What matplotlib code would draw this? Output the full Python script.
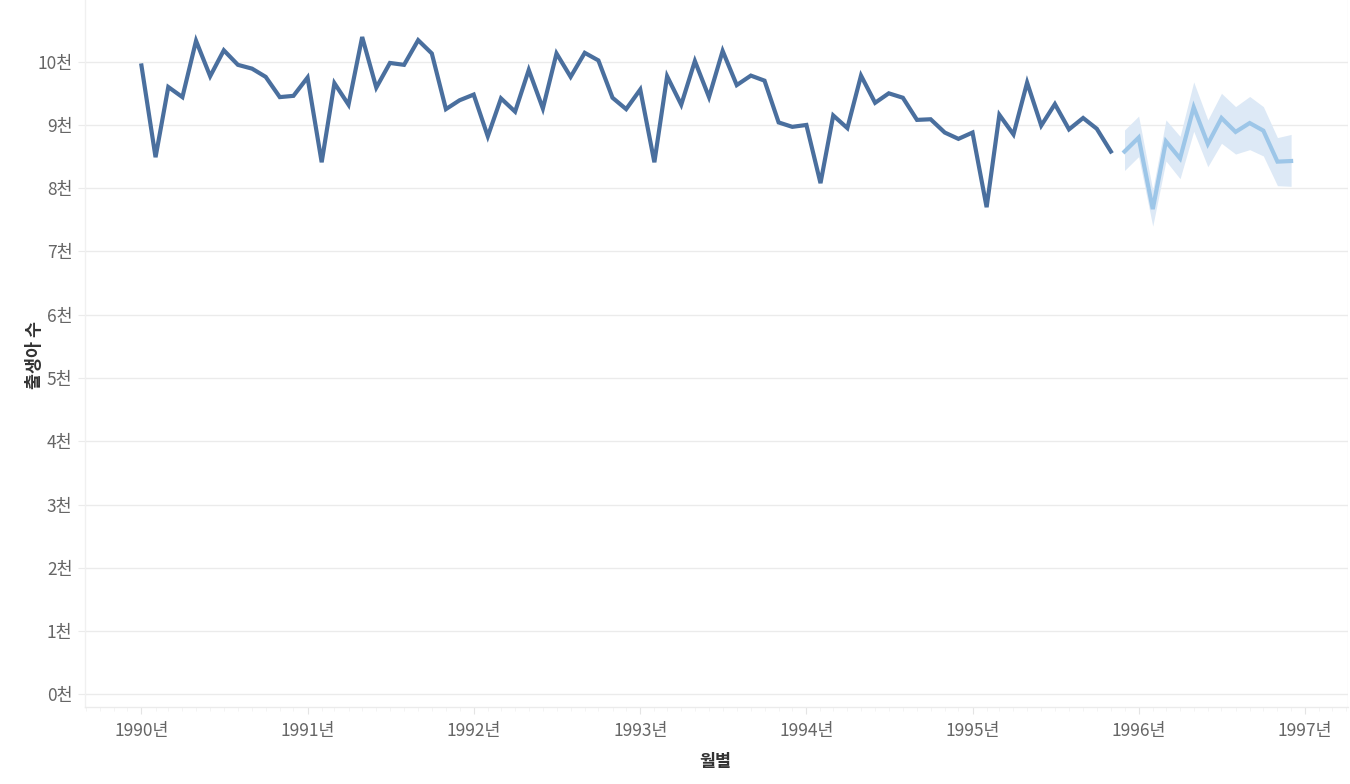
import numpy as np
import pandas as pd
import matplotlib
matplotlib.use("Agg")
import matplotlib.pyplot as plt
import matplotlib.dates as mdates
from matplotlib.ticker import FuncFormatter, MultipleLocator

plt.rcParams["font.family"] = ["Noto Sans CJK KR", "DejaVu Sans"]

# monthly births, Jan 1990 - Nov 1995 (thousands)
actual = [
    9.94, 8.49, 9.60, 9.44, 10.33, 9.77, 10.18, 9.95, 9.89, 9.76, 9.44, 9.46,
    9.75, 8.41, 9.66, 9.32, 10.39, 9.59, 9.98, 9.95, 10.34, 10.13, 9.25, 9.39,
    9.48, 8.82, 9.42, 9.21, 9.87, 9.26, 10.13, 9.76, 10.14, 10.02, 9.43, 9.25,
    9.56, 8.41, 9.77, 9.32, 10.01, 9.44, 10.17, 9.63, 9.78, 9.70, 9.04, 8.97,
    9.00, 8.08, 9.15, 8.95, 9.78, 9.35, 9.50, 9.43, 9.08, 9.09, 8.88, 8.78,
    8.88, 7.70, 9.16, 8.85, 9.67, 8.99, 9.33, 8.93, 9.11, 8.94, 8.58,
]
# forecast Dec 1995 - Dec 1996 (thousands)
forecast = [8.58, 8.80, 7.67, 8.74, 8.47, 9.28, 8.70, 9.11, 8.89, 9.03, 8.91, 8.42, 8.43]
fc_upper = [8.92, 9.14, 7.97, 9.08, 8.82, 9.68, 9.08, 9.50, 9.29, 9.45, 9.29, 8.80, 8.85]
fc_lower = [8.28, 8.50, 7.40, 8.43, 8.15, 8.90, 8.34, 8.71, 8.54, 8.61, 8.51, 8.04, 8.03]

act_dates = pd.date_range("1990-01-01", periods=len(actual), freq="MS")
fc_dates = pd.date_range("1995-12-01", periods=len(forecast), freq="MS")

fig = plt.figure(figsize=(13.5, 7.84), dpi=100)
ax = fig.add_axes([85 / 1350, 77 / 784, 1263 / 1350, 707 / 784])

grid_c = "#ebebeb"
ax.fill_between(fc_dates, np.array(fc_lower) * 1000, np.array(fc_upper) * 1000,
                color="#dde9f6", linewidth=0, zorder=2)
ax.plot(fc_dates, np.array(forecast) * 1000, color="#9dc6e8", linewidth=3.0,
        solid_joinstyle="miter", zorder=3)
ax.plot(act_dates, np.array(actual) * 1000, color="#4a6f9e", linewidth=3.0,
        solid_joinstyle="miter", zorder=4)

ax.set_ylim(-200, 10975)
ax.set_xlim(pd.Timestamp("1989-08-30"), pd.Timestamp("1997-04-05"))

ax.yaxis.set_major_locator(MultipleLocator(1000))
ax.yaxis.set_major_formatter(FuncFormatter(lambda v, p: f"{int(round(v / 1000))}천"))
ax.grid(axis="y", color=grid_c, linewidth=1.0, zorder=0)

ax.xaxis.set_major_locator(mdates.YearLocator())
ax.xaxis.set_major_formatter(mdates.DateFormatter("%Y년"))
ax.xaxis.set_minor_locator(mdates.MonthLocator())

for s in ["top", "right"]:
    ax.spines[s].set_visible(False)
ax.spines["left"].set_color("#f0f0f0")
ax.spines["bottom"].set_color("#ebebeb")
ax.spines["left"].set_linewidth(1.0)
ax.spines["bottom"].set_linewidth(1.0)
ax.axvline(pd.Timestamp("1997-04-04"), color="#f0f0f0", linewidth=1.0)

ax.tick_params(axis="y", length=5, color=grid_c, labelsize=12.5, labelcolor="#666666", pad=4)
ax.tick_params(axis="x", which="major", length=5, color="#e4e4e4", labelsize=12.5,
               labelcolor="#666666", pad=6)
ax.tick_params(axis="x", which="minor", length=3, color="#f2f2f2")

fig.text(35 / 1350, 1 - 355 / 784, "출생아 수", rotation=90, ha="center", va="center",
         fontsize=12.5, fontweight="bold", color="#333333")
fig.text(715 / 1350, 1 - 762 / 784, "월별", ha="center", va="center",
         fontsize=12.5, fontweight="bold", color="#333333")

fig.savefig("out.png", dpi=100, facecolor="white")
